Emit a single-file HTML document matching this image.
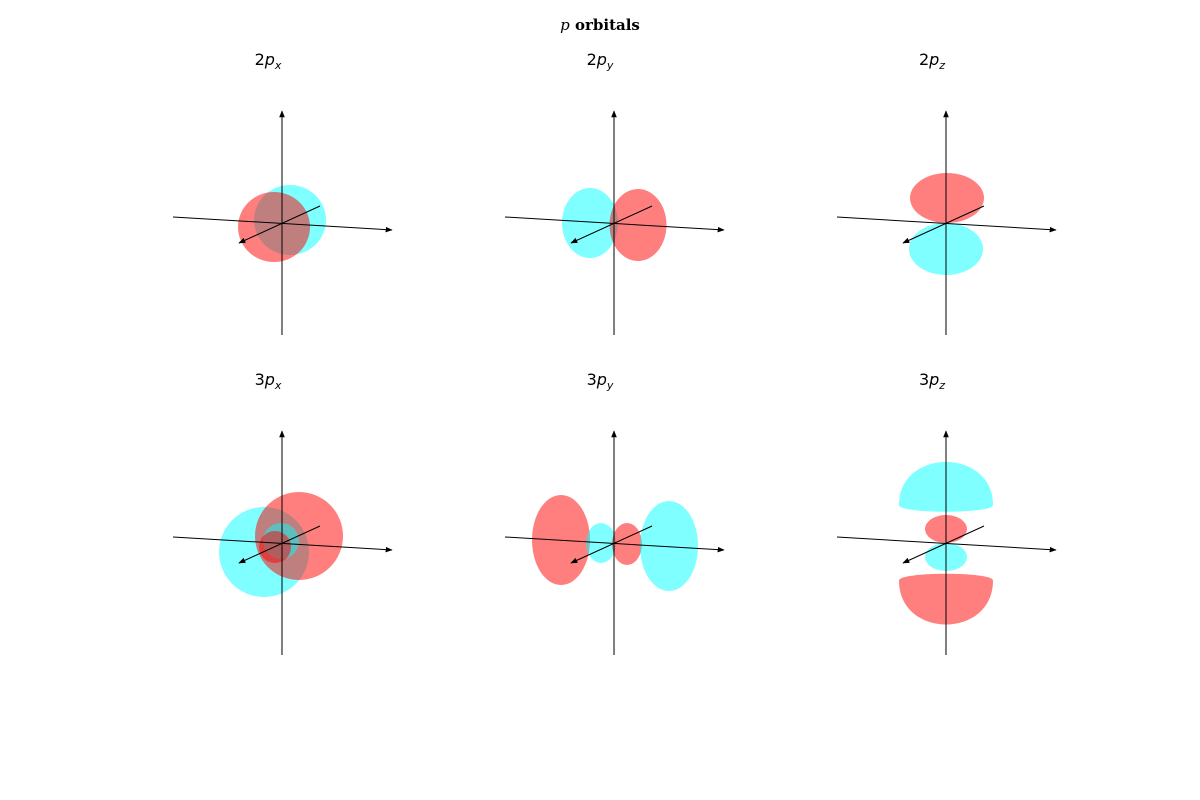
<!DOCTYPE html>
<html><head><meta charset="utf-8"><style>
body{margin:0;background:#fff}
svg{display:block}
.t{font-family:"DejaVu Sans","Liberation Sans",sans-serif;font-size:16px}
</style></head><body>
<svg id="c" width="1200" height="800">
<defs><marker id="ar" viewBox="0 0 10 10" refX="9" refY="5" markerWidth="7" markerHeight="7" orient="auto"><path d="M0,1 L10,5 L0,9 z" fill="#000"/></marker></defs>
<text x="600" y="30" text-anchor="middle" font-family="'DejaVu Serif','Liberation Serif',serif" font-size="15" font-weight="bold"><tspan font-style="italic" font-weight="normal">p</tspan> orbitals</text>
</svg>
<script>
const panelNames=["2p_x","2p_y","2p_z","3p_x","3p_y","3p_z"];
const panelOrigins=[[282,223],[614,223],[946,223],[282,543],[614,543],[946,543]];
// lobes: [panel, sign(1 cyan,-1 red), dx, dy, rx, ry, shape(0 ellipse,1 dome-up,2 dome-down)]
const lobes=[
[0,1,8,-3,36,35,0],[0,-1,-8,4,36,35,0],
[1,1,-24,0,28,35,0],[1,-1,24,2,28.5,36,0],
[2,-1,1,-25,37,25,0],[2,1,0,26,37,26,0],
[3,1,-18,9,45,45,0],[3,-1,17,-7,44,44,0],[3,1,-1,-2,18,18,0],[3,-1,-7,4,16,16,0],
[4,-1,-53,-3,29,45,0],[4,1,-13,0,15,20,0],[4,-1,13,1,15,21,0],[4,1,55,3,29,45,0],
[5,1,0,-56,47,25,1],[5,-1,0,-14,21,14,0],[5,1,0,14,21,14,0],[5,-1,0,56,47,25.5,2]
];
const svg=document.getElementById('c');
const NS='http://www.w3.org/2000/svg';
function mk(t,a){const e=document.createElementNS(NS,t);for(const k in a)e.setAttribute(k,a[k]);svg.appendChild(e);return e;}
panelNames.forEach((n,i)=>{
  const [ox,oy]=panelOrigins[i];
  const g=mk('g',{});
  
  
  const tx=mk('text',{x:ox-14,y:oy-158,'text-anchor':'middle',class:'t'});
  
  
  tx.innerHTML=n[0]+'<tspan font-style="italic">p</tspan><tspan font-size="11" font-style="italic" dy="4">'+n[3]+'</tspan>';
  lobes.filter(l=>l[0]===i).forEach((l,j)=>{
    const fill=l[1]>0?'rgba(0,255,255,0.5)':'rgba(255,0,0,0.5)';
    const cx=ox+l[2],cy=oy+l[3],rx=l[4],ry=l[5];let e;
    const ty=cy-ry,by=cy+ry;
    if(l[6]===0){e=mk('ellipse',{cx:cx,cy:cy,rx:rx,ry:ry,fill:fill});}
    else if(l[6]===1){const b=by-7,c=b-(b-ty)*4/3;
      e=mk('path',{d:`M${cx-rx},${b} C${cx-rx},${c} ${cx+rx},${c} ${cx+rx},${b} C${cx+rx},${by+2} ${cx-rx},${by+2} ${cx-rx},${b}Z`,fill:fill});}
    else{const b=ty+7,c=b+(by-b)*4/3;
      e=mk('path',{d:`M${cx-rx},${b} C${cx-rx},${c} ${cx+rx},${c} ${cx+rx},${b} C${cx+rx},${ty-2} ${cx-rx},${ty-2} ${cx-rx},${b}Z`,fill:fill});}
    
    
  });
  const a1=mk('line',{x1:ox,y1:oy+112,x2:ox,y2:oy-112,stroke:'#000','stroke-width':1,'marker-end':'url(#ar)'});
  
  
  const a2=mk('line',{x1:ox-109,y1:oy-6,x2:ox+110,y2:oy+7,stroke:'#000','stroke-width':1,'marker-end':'url(#ar)'});
  
  
  const a3=mk('line',{x1:ox+38,y1:oy-17,x2:ox-43,y2:oy+20,stroke:'#000','stroke-width':1,'marker-end':'url(#ar)'});
  
  
});
</script>
</body></html>
